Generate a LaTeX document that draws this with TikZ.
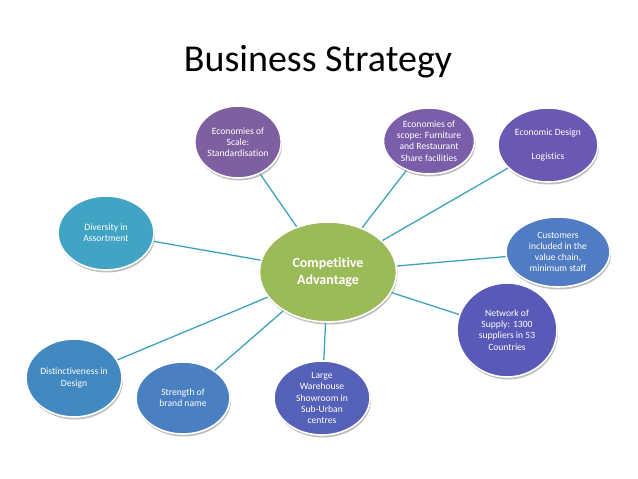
\documentclass[tikz,border=0pt]{standalone}
\usepackage{fontspec}
\setmainfont[Ligatures=NoCommon]{Carlito}
\usetikzlibrary{shapes.geometric,shadows}
\definecolor{cScale}{HTML}{7E60A0}
\definecolor{cScope}{HTML}{7B5EAA}
\definecolor{cDesign}{HTML}{6A58B2}
\definecolor{cCust}{HTML}{4F7CC2}
\definecolor{cNet}{HTML}{5959B7}
\definecolor{cWare}{HTML}{5560B8}
\definecolor{cStrength}{HTML}{4A80C2}
\definecolor{cDist}{HTML}{4189C0}
\definecolor{cDiv}{HTML}{42A4C4}
\definecolor{cCenter}{HTML}{9BBB59}
\definecolor{cLine}{HTML}{3FA3BD}
\tikzset{
  bubble/.style={ellipse, draw=white, line width=1.6pt, inner sep=0pt,
    text=white, align=center, font=\fontsize{9.6}{11.2}\selectfont,
    drop shadow={shadow xshift=1pt, shadow yshift=-2.5pt, opacity=0.25, fill=black}},
  link/.style={draw=cLine, line width=1.3pt}
}
\begin{document}
\begin{tikzpicture}[x=1pt,y=-1pt]
\useasboundingbox (0,0) rectangle (638,479);
\fill[white] (0,0) rectangle (638,479);
\node (title) at (318,62) {\fontsize{38}{44}\selectfont Business Strategy};

\node[bubble, fill=cCenter, minimum width=137pt, minimum height=100pt, font=\fontsize{14}{17}\bfseries] (center) at (328,272) {Competitive\\Advantage};

\node[bubble, fill=cScale, minimum width=82pt, minimum height=72pt] (scale) at (238,142) {Economies of\\Scale:\\Standardisation};
\node[bubble, fill=cScope, minimum width=82pt, minimum height=66pt] (scope) at (429,141) {Economies of\\scope: Furniture\\and Restaurant\\Share facilities};
\node[bubble, fill=cDesign, minimum width=100pt, minimum height=74pt] (design) at (548,145) {Economic Design\\[12pt]Logistics};
\node[bubble, fill=cCust, minimum width=104pt, minimum height=70pt] (cust) at (558,252) {Customers\\included in the\\value chain,\\minimum staff};
\node[bubble, fill=cNet, minimum width=100pt, minimum height=94pt] (net) at (507,330) {Network of\\Supply: 1300\\suppliers in 53\\Countries};
\node[bubble, fill=cWare, minimum width=96pt, minimum height=74pt] (ware) at (322,398) {Large\\Warehouse\\Showroom in\\Sub-Urban\\centres};
\node[bubble, fill=cStrength, minimum width=94pt, minimum height=72pt] (strength) at (183,398) {Strength of\\brand name};
\node[bubble, fill=cDist, minimum width=96pt, minimum height=78pt] (dist) at (74,378) {Distinctiveness in\\Design};
\node[bubble, fill=cDiv, minimum width=96pt, minimum height=74pt] (div) at (106,233) {Diversity in\\Assortment};

\foreach \n in {scale,scope,design,cust,net,ware,strength,dist,div}
  \draw[link] (center) -- (\n);
\end{tikzpicture}
\end{document}
